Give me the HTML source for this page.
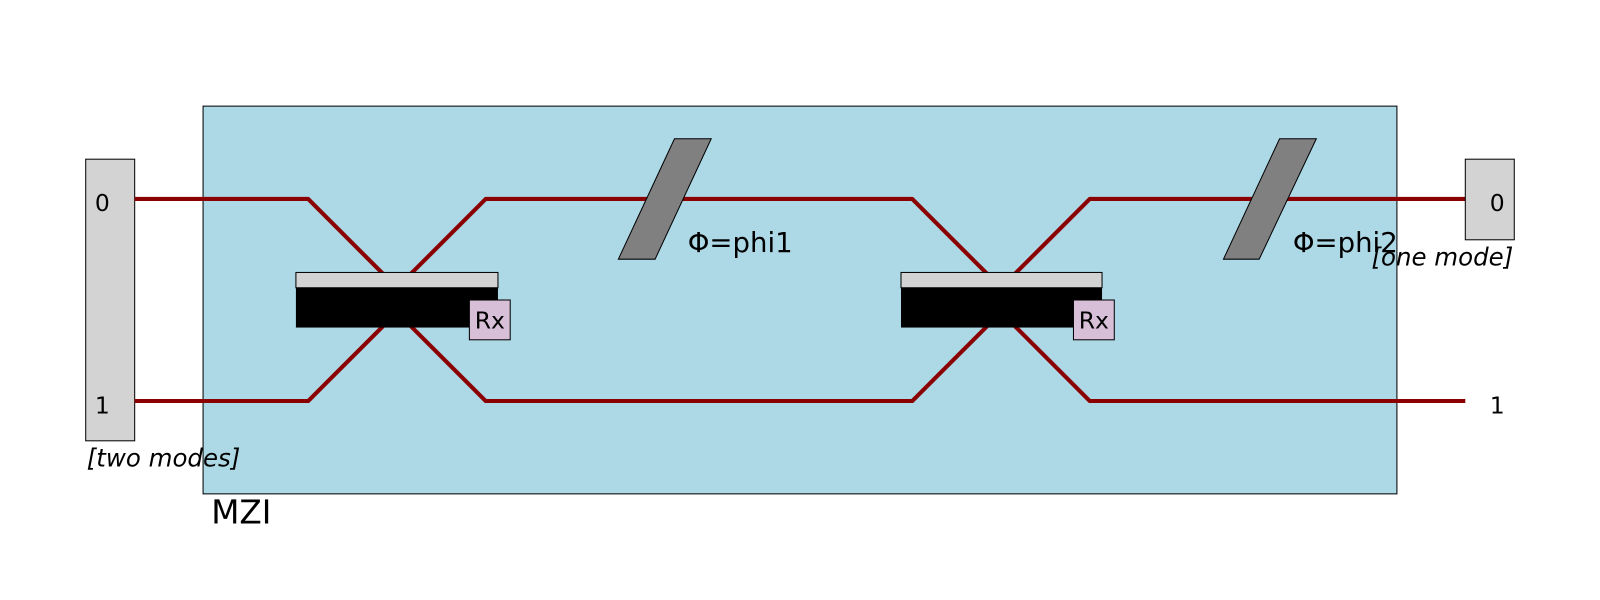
<!DOCTYPE html>
<html><head><meta charset="utf-8"><style>html,body{margin:0;padding:0;background:#fff}svg{display:block}</style></head>
<body>
<svg width="1600" height="600" xmlns="http://www.w3.org/2000/svg" font-family="'DejaVu Sans','Liberation Sans',sans-serif">
<g transform="scale(1.0204)">
<rect x="84" y="156" width="48" height="276" fill="#d3d3d3" stroke="#000" stroke-width="1"/>
<text x="93" y="207" font-size="23">0</text>
<text x="93" y="405" font-size="23">1</text>
<rect x="199" y="104" width="1170" height="380" fill="#add8e6" stroke="#000" stroke-width="1"/>
<text x="85" y="457" font-size="24" font-style="italic">[two modes]</text>
<text x="207" y="513" font-size="32">MZI</text>
<g stroke="#8b0000" stroke-width="4" fill="none" stroke-linejoin="round">
<polyline points="132,195 302,195 375,268 403,320 476,393 894,393 967,320 995,268 1068,195 1436,195"/>
<polyline points="132,393 302,393 375,320 403,268 476,195 894,195 967,268 995,320 1068,393 1436,393"/>
</g>
<rect x="290" y="267" width="198" height="15" fill="#d3d3d3" stroke="#000" stroke-width="1"/>
<rect x="290" y="282" width="198" height="39" fill="#000"/>
<rect x="460" y="294" width="40" height="39" fill="#d8bfd8" stroke="#000" stroke-width="1"/>
<text x="480" y="322" font-size="23" text-anchor="middle">Rx</text>
<rect x="883" y="267" width="197" height="15" fill="#d3d3d3" stroke="#000" stroke-width="1"/>
<rect x="883" y="282" width="197" height="39" fill="#000"/>
<rect x="1052" y="294" width="40" height="39" fill="#d8bfd8" stroke="#000" stroke-width="1"/>
<text x="1072" y="322" font-size="23" text-anchor="middle">Rx</text>
<polygon points="606,254 642,254 697,136 661,136" fill="#808080" stroke="#000" stroke-width="1"/>
<text x="674" y="247" font-size="27">Φ=phi1</text>
<polygon points="1199,254 1234,254 1290,136 1254,136" fill="#808080" stroke="#000" stroke-width="1"/>
<text x="1267" y="247" font-size="27">Φ=phi2</text>
<rect x="1436" y="156" width="48" height="79" fill="#d3d3d3" stroke="#000" stroke-width="1"/>
<text x="1460" y="207" font-size="23">0</text>
<text x="1460" y="405" font-size="23">1</text>
<text x="1483" y="260" font-size="24" font-style="italic" text-anchor="end">[one mode]</text>
</g>
</svg>
</body></html>
